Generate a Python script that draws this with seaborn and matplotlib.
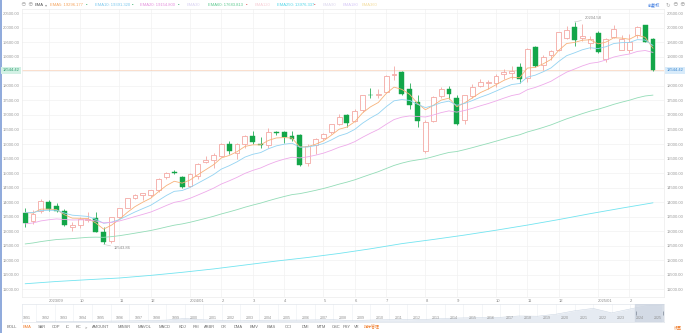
import matplotlib
matplotlib.use("Agg")
import matplotlib.pyplot as plt
import seaborn as sns

# ---- weekly bars: index 0 = week of 2023-08-14, index 80 = week of 2025-02-24 ----
opens = [13620, 13340, 13700, 14000, 13850, 13700, 13160, 13200, 13380, 13450,
         12980, 12660, 13480, 13800, 14150, 14230, 14250, 14420, 14850, 15030,
         14873, 14540, 14900, 15380, 15460, 15580, 16000, 15700, 15990, 16270,
         16000, 15980, 16430, 16400, 16260, 16300, 15350, 15980, 16200, 16400,
         16700, 17000, 16800, 17160, 17700, 17690, 17800, 18380, 18480, 17900,
         17430, 15760, 16780, 17650, 17880, 17600, 16830, 17650, 18000, 18100,
         18090, 18400, 18450, 18660, 18270, 19330, 18730, 19050, 19240, 19650,
         20030, 19640, 19480, 19820, 18940, 19700, 19240, 19240, 19750, 20090,
         19600]
highs = [13790, 13720, 14120, 14080, 13970, 13750, 13300, 13500, 13650, 13650,
         13160, 13500, 13810, 14130, 14290, 14320, 14410, 14830, 15050, 15110,
         14900, 14990, 15330, 15580, 15700, 16030, 16100, 16050, 16300, 16450,
         16250, 16540, 16460, 16440, 16450, 16350, 16000, 16200, 16390, 16700,
         17030, 17030, 17200, 17700, 17940, 17900, 18370, 18670, 18500, 18100,
         17700, 16830, 17650, 17980, 17990, 17700, 17700, 18050, 18250, 18220,
         18420, 18570, 18690, 18780, 19300, 19370, 19050, 19250, 19870, 20060,
         20204.58, 20120, 19720, 19900, 19650, 20110, 19760, 19800, 20050, 20110,
         19640]
lows = [13160, 13250, 13640, 13700, 13650, 13170, 12990, 13100, 13300, 12970,
        12543.86, 12600, 13440, 13790, 14120, 14060, 14160, 14360, 14780, 14960,
        14480, 14520, 14800, 15330, 15160, 15570, 15650, 15500, 15870, 15990,
        15880, 15860, 16310, 16050, 16090, 15260, 15250, 15660, 16140, 16350,
        16650, 16600, 16750, 17100, 17600, 17580, 17750, 18200, 17700, 17200,
        16600, 15708, 16750, 17600, 17550, 16670, 16700, 17600, 17950, 17900,
        17950, 18250, 18250, 18100, 18150, 18650, 18550, 18900, 19200, 19600,
        19390, 19540, 19270, 19120, 18830, 19650, 19230, 19150, 19650, 19520,
        18530]
closes = [13290, 13590, 14031, 13762, 13709, 13212, 13219, 13431, 13407, 12984,
          12643, 13478, 13798, 14125, 14250, 14305, 14404, 14813, 14992, 15011,
          14524, 14972, 15311, 15455, 15629, 15990, 15776, 15997, 16275, 16085,
          15973, 16429, 16379, 16249, 16175, 15282, 15928, 16156, 16341, 16686,
          16921, 16735, 17133, 17689, 17689, 17733, 18353, 18399, 17727, 17358,
          16776, 16745, 17631, 17877, 17714, 16691, 17684, 17948, 18119, 18138,
          18342, 18490, 18519, 18240, 19287, 18680, 19004, 19218, 19860, 19927,
          19573, 19722, 19622, 19162, 19630, 19954, 19627, 19523, 20027, 19524,
          18544.42]

ema5 = [13640, 13623, 13759, 13760, 13743, 13566, 13450, 13444, 13432, 13283,
        13070, 13206, 13403, 13644, 13846, 13999, 14134, 14360, 14571, 14718,
        14653, 14759, 14943, 15114, 15286, 15521, 15606, 15736, 15916, 15972,
        15972, 16124, 16209, 16222, 16206, 15898, 15908, 15991, 16108, 16301,
        16508, 16584, 16767, 17074, 17279, 17430, 17738, 17958, 17881, 17707,
        17397, 17180, 17330, 17512, 17579, 17283, 17417, 17594, 17769, 17892,
        18042, 18191, 18300, 18280, 18616, 18637, 18759, 18912, 19228, 19461,
        19498, 19573, 19589, 19447, 19508, 19657, 19647, 19606, 19746, 19672,
        19296.177]
ema10 = [13650, 13639, 13710, 13719, 13717, 13625, 13551, 13529, 13507, 13412,
         13272, 13309, 13398, 13530, 13661, 13778, 13892, 14059, 14229, 14371,
         14399, 14503, 14650, 14796, 14947, 15137, 15253, 15388, 15549, 15646,
         15705, 15837, 15936, 15993, 16026, 15891, 15898, 15945, 16017, 16139,
         16281, 16364, 16504, 16719, 16895, 17047, 17284, 17487, 17531, 17500,
         17368, 17255, 17323, 17424, 17477, 17334, 17398, 17498, 17611, 17707,
         17822, 17943, 18048, 18083, 18302, 18371, 18486, 18619, 18845, 19042,
         19139, 19245, 19314, 19286, 19349, 19459, 19490, 19496, 19593, 19580,
         19391.32]
ema20 = [13250, 13282, 13353, 13392, 13422, 13402, 13385, 13389, 13391, 13352,
         13285, 13303, 13350, 13424, 13503, 13579, 13658, 13768, 13885, 13992,
         14043, 14131, 14243, 14358, 14479, 14623, 14733, 14853, 14988, 15092,
         15176, 15295, 15398, 15479, 15545, 15520, 15559, 15616, 15685, 15780,
         15889, 15970, 16081, 16234, 16373, 16502, 16678, 16842, 16926, 16967,
         16949, 16930, 16997, 17081, 17141, 17098, 17154, 17230, 17315, 17393,
         17483, 17579, 17668, 17722, 17871, 17948, 18049, 18160, 18322, 18475,
         18580, 18689, 18778, 18815, 18893, 18994, 19054, 19099, 19187, 19219,
         19154.8]
ema60 = [12560, 12594, 12641, 12678, 12712, 12728, 12744, 12767, 12788, 12794,
         12789, 12812, 12844, 12886, 12931, 12976, 13023, 13082, 13145, 13206,
         13249, 13306, 13372, 13440, 13512, 13593, 13665, 13741, 13824, 13898,
         13966, 14047, 14123, 14193, 14258, 14292, 14346, 14405, 14468, 14541,
         14619, 14688, 14768, 14864, 14957, 15048, 15156, 15262, 15343, 15409,
         15454, 15496, 15566, 15642, 15710, 15742, 15806, 15876, 15950, 16022,
         16098, 16176, 16253, 16318, 16415, 16489, 16571, 16658, 16763, 16867,
         16956, 17047, 17131, 17198, 17278, 17366, 17440, 17508, 17591, 17654,
         17683.813]
ema250_weeks = [0, 4, 8, 12, 16, 20, 24, 28, 32, 36, 40,
                44, 48, 52, 56, 60, 64, 68, 72, 76, 80]
ema250 = [11190, 11268, 11330, 11388, 11478, 11583, 11700, 11835, 11971, 12094,
          12233, 12393, 12571, 12714, 12866, 13033, 13210, 13400, 13603, 13793,
          13976.337]

last_price = 18544.42
high_label = "20204.58"
low_label = "12543.86"

price_ticks = [11000, 11500, 12000, 12500, 13000, 13500, 14000, 14500, 15000, 15500,
               16000, 16500, 17000, 17500, 18000, 18500, 19000, 19500, 20000, 20500]
month_weeks = [3, 7, 12, 16, 21, 25, 29, 33, 38, 42, 46, 51, 55, 60, 64, 68, 73, 77]
month_labels = ["2023/09", "10", "11", "12", "2024/01", "2", "3", "4", "5", "6",
                "7", "8", "9", "10", "11", "12", "2025/01", "2"]

# long-range overview (year-end levels)
nav_years = list(range(1991, 2026))
nav_values = [586, 677, 777, 752, 1052, 1291, 1570, 2193, 4069, 2471,
              1950, 1336, 2003, 2175, 2205, 2415, 2652, 1577, 2269, 2653,
              2605, 3020, 4177, 4736, 5007, 5383, 6903, 6635, 8973, 12888,
              15645, 10466, 15011, 19311, 18544]

legend_items = [("EMA5: 19296.177", "#f5a35c"), ("EMA10: 19391.320", "#7cc8ee"),
                ("EMA20: 19154.800", "#e48fdc"), ("EMA30", "#d9d2f2"),
                ("EMA60: 17683.813", "#5cc98e"), ("EMA120", "#f7cdd5"),
                ("EMA250: 13976.337", "#4fd6e8"), ("EMA90", "#ddd8ee"),
                ("EMA180", "#d7c8f7"), ("EMA360", "#f3dc9c")]
legend_x = [50, 95, 140, 187, 208, 255, 277, 323, 343, 362]
legend_marks = [(87, "#4cb87a"), (133, "#4cb87a"), (179, "#4cb87a"), (247, "#e06060"), (315, "#e06060")]

buttons = ["BOLL", "EMA", "SAR", "CDP", "IC", "KC", ">", "AMOUNT", "MINSR", "MAVOL",
           "MACD", "KDJ", "RSI", "ARBR", "CR", "DMA", "BMV", "BIAS", "CCI", "DMI",
           "MTM", "OSC", "PSY", "VR", "指标管理"]
button_x = [12, 27, 42, 56, 68, 78, 86, 101, 124, 145, 165, 182, 196, 210, 224, 238,
            254, 271, 288, 305, 321, 336, 347, 357, 372]

# ---- style ----
sns.set_theme(style="white")
plt.rcParams["font.family"] = ["Liberation Sans", "Noto Sans CJK SC", "DejaVu Sans"]

W, H = 686, 333
fig = plt.figure(figsize=(W / 100, H / 100), dpi=100)
fig.patch.set_facecolor("white")


def ftext(x, y, s, **kw):
    kw.setdefault("va", "center")
    kw.setdefault("fontsize", 3)
    return fig.text(x / W, 1 - y / H, s, **kw)


UP = "#f3a19b"
DOWN = "#13a649"
AXIS_TXT = "#9a9a9a"

# ---- main price panel ----
ax = fig.add_axes([22 / W, 1 - 297 / H, 642 / W, 288 / H])
ax.set_xlim(-0.4, 81.4)
ax.set_ylim(10734, 20648)
ax.set_facecolor("white")
for s in ax.spines.values():
    s.set_color("#ebebeb")
    s.set_linewidth(0.5)
ax.set_yticks(price_ticks)
# the tick nearest the last price is covered by the price tag
ax.set_yticklabels(["" if abs(t - last_price) < 250 else f"{t:.2f}" for t in price_ticks])
ax.set_xticks(month_weeks)
ax.set_xticklabels(month_labels, ha="left")
ax.tick_params(axis="y", length=0, labelsize=3, labelcolor=AXIS_TXT,
               labelleft=True, labelright=True, pad=1.8)
ax.tick_params(axis="x", length=0, labelsize=3, labelcolor="#8a8a8a", pad=1.2)
ax.grid(True, color="#f2f2f2", linewidth=0.5)
ax.set_axisbelow(True)

weeks = list(range(len(closes)))
width = 0.62
for i, (o, h, l, c) in enumerate(zip(opens, highs, lows, closes)):
    top, bot = max(o, c), min(o, c)
    if c >= o:
        ax.vlines(i, top, h, color=UP, linewidth=0.55, zorder=2)
        ax.vlines(i, l, bot, color=UP, linewidth=0.55, zorder=2)
        ax.bar(i, top - bot, bottom=bot, width=width, facecolor="white",
               edgecolor=UP, linewidth=0.55, zorder=2)
    else:
        ax.vlines(i, l, h, color=DOWN, linewidth=0.55, zorder=2)
        ax.bar(i, top - bot, bottom=bot, width=width, facecolor=DOWN,
               edgecolor=DOWN, linewidth=0.3, zorder=2)

line_specs = [(weeks, ema5, "#f7b27a"), (weeks, ema10, "#93d3f2"),
              (weeks, ema20, "#eeaaea"), (weeks, ema60, "#93dcb7"),
              (ema250_weeks, ema250, "#72e4f0")]
for xs, ys, col in line_specs:
    sns.lineplot(x=xs, y=ys, ax=ax, color=col, linewidth=0.6, legend=False, zorder=3)

ax.axhline(last_price, color="#f5b48c", linewidth=0.6, linestyle=(0, (1.2, 1.2)), zorder=1)

ihigh = highs.index(max(highs))
ilow = lows.index(min(lows))
ax.annotate(high_label, xy=(ihigh, highs[ihigh]), xytext=(ihigh + 1.3, 20330),
            fontsize=3, color="#8c8c8c", ha="left", va="center",
            arrowprops=dict(arrowstyle="-", color="#c4c4c4", lw=0.4, shrinkA=0, shrinkB=0))
ax.annotate(low_label, xy=(ilow, lows[ilow]), xytext=(ilow + 1.3, 12420),
            fontsize=3, color="#8c8c8c", ha="left", va="center",
            arrowprops=dict(arrowstyle="-", color="#c4c4c4", lw=0.4, shrinkA=0, shrinkB=0))

# last price tags on both axes
y_last = 13.3 + (20500 - last_price) * 0.02905
ftext(11, y_last, f"{last_price:.2f}", ha="center", color="#2c9c6c",
      bbox=dict(boxstyle="square,pad=0.35", fc="#d3f1e5", ec="none"))
ftext(675, y_last, f"{last_price:.2f}", ha="center", color="#3b87cf",
      bbox=dict(boxstyle="square,pad=0.35", fc="#d8ebfa", ec="none"))

# ---- overview navigator ----
nav = fig.add_axes([22 / W, 1 - 322 / H, 642 / W, 18 / H])
nav.set_xlim(1990.73, 2025.32)
nav.set_ylim(0, 20700)
nav_x = [y + 0.5 for y in nav_years[:-1]] + [2025.2]
nav.fill_between(nav_x, nav_values, color="#e6ebf2", linewidth=0, zorder=1)
sns.lineplot(x=nav_x, y=nav_values, ax=nav, color="#ccd6e3", linewidth=0.4, legend=False, zorder=2)
nav.axvspan(2023.76, 2025.32, color="#cdd5e1", alpha=0.75, zorder=3)
for yr in nav_years:
    nav.axvline(yr + 0.5, color="#eceff3", linewidth=0.4, zorder=0)
    nav.text(yr, 4300, str(yr), fontsize=2.6, color="#8e8e8e", ha="center", va="center", zorder=4)
for xe in (2023.8, 2025.25):
    nav.vlines(xe, 7500, 13000, color="#7d8796", linewidth=0.5, zorder=5)
nav.set_xticks([])
nav.set_yticks([])
for s in nav.spines.values():
    s.set_color("#e2e6ec")
    s.set_linewidth(0.5)

# ---- top toolbar ----
ftext(23, 5, "⊖", ha="center", color="#b5b5b5", fontsize=4)
ftext(30, 5, "⊕", ha="center", color="#b5b5b5", fontsize=4)
ftext(35, 5, "EMA", ha="left", color="#555555")
ftext(44.5, 5, "▾", ha="left", color="#9a9a9a")
for (label, col), x in zip(legend_items, legend_x):
    ftext(x, 5, label, ha="left", color=col)
for x, col in legend_marks:
    ftext(x, 5, "▪", ha="center", color=col, fontsize=3)
ftext(654, 5, "前复权", ha="center", color="#3d7be0", fontsize=3)
ftext(668, 5, "↻", ha="center", color="#b0b0b0", fontsize=4)
ftext(675, 5, "⊖", ha="center", color="#b0b0b0", fontsize=4)
ftext(682, 5, "⊕", ha="center", color="#b0b0b0", fontsize=4)

# ---- indicator buttons ----
for name, x in zip(buttons, button_x):
    col = "#f07c2a" if name in ("EMA", "指标管理") else "#6a6a6a"
    ftext(x, 327.5, name, ha="center", color=col, fontsize=2.9)
ftext(678, 327.5, "设置", ha="center", color="#f07c2a", fontsize=2.9)

# left edge accent bar
fig.add_artist(plt.Line2D([0.8 / W, 0.8 / W], [0, 1], transform=fig.transFigure,
                          color="#7c9bd6", linewidth=1.2))

fig.savefig("out.png", dpi=100)
